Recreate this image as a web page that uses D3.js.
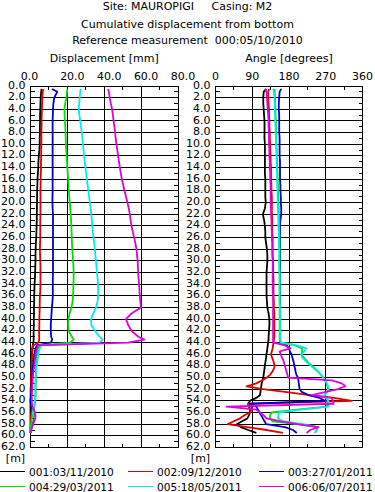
<!DOCTYPE html>
<html>
<head>
<meta charset="utf-8">
<script src="https://cdn.jsdelivr.net/npm/d3@7"></script>
<style>
  body { margin: 0; background: #fff; }
  svg text { font-family: "DejaVu Sans", Verdana, sans-serif; font-size: 11px; fill: #000; white-space: pre; }
  svg text.legend-label { font-size: 10.6px; }
</style>
</head>
<body>
<div id="canvas"></div>
<script>
"use strict"

/* Data: depths [m] shared by all readings */
let depths = [
  0.5, 1, 2, 3, 4, 5, 6, 7, 8, 9,
  10, 11, 12, 13, 14, 15, 16, 17, 18, 19,
  20, 21, 22, 23, 24, 25, 26, 27, 28, 29,
  30, 31, 32, 33, 34, 35, 36, 37, 38, 39,
  40, 41, 42, 43, 43.5, 44, 44.5, 45, 45.5, 46,
  46.5, 47, 47.5, 48, 48.5, 49, 49.5, 50, 50.5, 51,
  51.5, 52, 52.5, 53, 53.5, 54, 54.5, 55, 55.5, 56,
  56.5, 57, 57.5, 58, 58.5, 59, 59.5
];

let seriesNames = ["001:03/11/2010", "002:09/12/2010", "003:27/01/2011",
                   "004:29/03/2011", "005:18/05/2011", "006:06/07/2011"];
let seriesColors = ["#000000", "#e00000", "#0000d0", "#00e000", "#00eeee", "#e000e0"];

/* Cumulative displacement [mm] */
let disp001 = [
  6.0, 5.8, 5.5, 5.4, 5.3, 5.2, 5.2, 5.1, 5.1, 5.0,
  5.0, 4.8, 4.5, 4.3, 4.2, 4.0, 3.8, 3.7, 3.6, 3.6,
  3.5, 3.5, 3.4, 3.4, 3.3, 3.2, 3.1, 2.9, 2.8, 2.7,
  2.7, 2.6, 2.5, 2.4, 2.2, 2.1, 2.0, 2.0, 1.9, 1.9,
  1.8, 1.8, 1.7, 1.7, 1.7, 1.6, 1.2, 1.0, 0.9, 0.8,
  0.7, 0.6, 0.5, 0.5, 0.4, 0.4, 0.3, 0.3, 0.2, 0.2,
  0.2, 0.1, 0.1, 0.1, 0.1, 0.0, 0.0, 0.0, 0.0, 0.0,
  0.0, 0.0, 0.0, 0.0, 0.0, 0.0, 0.0
];
let disp002 = [
  7.0, 6.6, 6.4, 6.3, 6.2, 6.1, 6.0, 6.0, 5.9, 5.9,
  5.9, 5.8, 5.8, 5.7, 5.7, 5.6, 5.5, 5.5, 5.4, 5.4,
  5.4, 5.4, 5.4, 5.3, 5.3, 5.3, 5.3, 5.2, 5.1, 5.2,
  5.3, 5.4, 5.4, 5.4, 5.4, 5.3, 5.1, 5.0, 5.0, 4.9,
  4.8, 4.8, 4.7, 4.7, 4.7, 4.4, 1.4, 1.2, 1.0, 0.9,
  0.8, 0.7, 0.6, 0.6, 0.5, 0.5, 0.4, 0.4, 0.4, 0.3,
  0.3, 0.3, 0.3, 0.2, 0.2, 0.2, 0.3, 0.6, 0.7, 0.5,
  0.4, 0.3, 0.2, 0.2, 0.1, 0.0, 0.0
];
let disp003 = [
  11.7, 14.5, 12.9, 12.4, 12.2, 12.1, 12.0, 12.0, 12.0, 12.0,
  12.0, 12.0, 12.0, 12.0, 12.0, 12.0, 12.0, 12.0, 12.0, 11.9,
  11.9, 12.0, 12.2, 12.2, 12.2, 12.2, 12.2, 12.2, 12.2, 12.2,
  12.2, 12.2, 12.2, 12.1, 12.1, 12.1, 12.1, 11.9, 11.6, 11.4,
  11.2, 11.0, 11.0, 11.2, 11.8, 11.0, 3.4, 2.8, 2.4, 2.1,
  1.9, 1.7, 1.5, 1.4, 1.2, 1.1, 1.0, 0.9, 0.8, 0.7,
  0.6, 0.5, 0.4, 0.3, 0.1, 0.0, 0.2, 0.6, 1.2, 1.7,
  2.1, 2.0, 1.6, 1.0, 0.6, 0.3, 0.1
];
let disp004 = [
  20.0, 19.8, 19.5, 18.8, 18.4, 18.5, 18.7, 18.9, 19.0, 19.1,
  19.2, 19.4, 19.6, 19.8, 20.0, 20.2, 20.4, 20.6, 20.8, 21.0,
  21.3, 21.6, 21.8, 22.0, 22.2, 22.3, 22.4, 22.5, 22.7, 22.9,
  23.1, 23.3, 23.4, 23.4, 23.3, 23.2, 23.1, 22.8, 22.2, 21.2,
  20.5, 20.4, 20.6, 22.5, 23.5, 21.5, 5.0, 4.2, 3.8, 3.6,
  3.4, 3.3, 3.2, 3.1, 3.0, 3.0, 2.9, 2.9, 2.9, 2.8,
  2.8, 2.8, 2.8, 2.8, 2.7, 2.6, 2.4, 2.0, 1.6, 1.2,
  0.9, 0.7, 0.5, 0.3, 0.2, 0.1, 0.0
];
let disp005 = [
  27.2, 27.0, 26.7, 26.4, 26.2, 26.5, 27.0, 27.4, 27.8, 28.2,
  28.5, 28.8, 29.1, 29.4, 29.8, 30.2, 30.6, 31.0, 31.4, 31.8,
  32.2, 32.6, 33.0, 33.3, 33.5, 33.8, 34.2, 34.6, 34.9, 35.2,
  35.5, 35.8, 36.1, 36.4, 36.6, 36.7, 36.7, 36.3, 35.6, 34.0,
  32.8, 33.0, 35.0, 37.5, 39.0, 37.5, 5.5, 5.0, 4.6, 4.3,
  4.0, 3.8, 3.6, 3.4, 3.2, 3.0, 2.9, 2.8, 2.7, 2.6,
  2.6, 2.6, 2.6, 2.5, 2.4, 2.3, 2.1, 1.8, 1.5, 1.4,
  1.8, 2.3, 2.0, 1.4, 0.8, 0.3, 0.0
];
let disp006 = [
  42.1, 42.5, 43.0, 43.6, 44.3, 44.7, 45.1, 45.5, 45.9, 46.2,
  46.6, 47.1, 47.5, 48.0, 48.5, 49.0, 49.6, 50.3, 51.0, 51.8,
  52.6, 53.3, 53.9, 54.3, 54.8, 55.5, 56.2, 56.9, 57.5, 57.8,
  58.1, 58.3, 58.4, 58.6, 58.9, 59.1, 59.3, 59.6, 59.9, 54.8,
  51.8, 53.0, 54.8, 58.5, 61.8, 53.0, 4.0, 3.5, 3.1, 2.8,
  2.6, 2.4, 2.2, 2.0, 1.8, 1.6, 1.4, 1.3, 1.2, 1.1,
  1.0, 0.9, 0.8, 0.8, 0.7, 0.7, 0.8, 1.0, 1.8, 2.4,
  2.7, 2.6, 2.0, 1.4, 0.8, 0.4, 0.0
];

/* Angle [degrees] */
let ang001 = [
  124, 118, 117, 117, 118, 119, 120, 120, 120, 120,
  121, 121, 121, 121, 121, 121, 122, 122, 122, 122,
  123, 121, 116, 119, 121, 122, 122, 124, 126, 127,
  127, 126, 125, 125, 125, 125, 125, 126, 127, 130,
  132, 132, 131, 130, 130, 129, 128, 127, 126, 125,
  124, 123, 122, 121, 120, 119, 118, 117, 115, 113,
  112, 111, 110, 109, 100, 84, 80, 82, 85, 84,
  82, 78, 65, 52, 62, 80, 100
];
let ang002 = [
  131, 129, 129, 130, 131, 131, 132, 132, 133, 133,
  134, 134, 135, 135, 136, 136, 136, 137, 137, 138,
  138, 138, 138, 139, 139, 139, 140, 140, 140, 140,
  141, 141, 141, 142, 142, 142, 142, 143, 143, 144,
  144, 144, 144, 144, 143, 142, 141, 140, 138, 136,
  138, 141, 143, 145, 143, 139, 134, 126, 114, 100,
  76, 116, 175, 230, 290, 334, 80, 88, 90, 84,
  70, 60, 45, 30, 78, 125, 165
];
let ang003 = [
  161, 157, 156, 155, 155, 156, 156, 156, 156, 157,
  157, 157, 157, 158, 158, 158, 158, 159, 159, 160,
  160, 161, 161, 159, 158, 158, 158, 158, 158, 158,
  158, 158, 158, 158, 158, 158, 158, 158, 158, 158,
  158, 158, 158, 158, 158, 160, 175, 180, 182, 186,
  188, 190, 192, 193, 195, 196, 198, 202, 203, 204,
  205, 206, 212, 228, 255, 268, 84, 100, 104, 108,
  112, 116, 120, 124, 170, 190, 199
];
let ang004 = [
  145, 145, 146, 146, 147, 147, 148, 148, 148, 149,
  149, 150, 150, 151, 151, 152, 152, 153, 153, 154,
  154, 155, 155, 156, 156, 156, 157, 157, 157, 157,
  157, 157, 157, 157, 157, 157, 157, 157, 157, 157,
  157, 157, 157, 157, 157, 160, 195, 212, 212, 211,
  215, 222, 228, 236, 244, 252, 258, 264, 268, 272,
  274, 276, 272, 268, 272, 276, 275, 272, 200, 137,
  134, 133, 140, 200, 250, 248, 244
];
let ang005 = [
  141, 143, 144, 145, 145, 146, 146, 147, 147, 148,
  148, 149, 149, 150, 150, 151, 151, 151, 152, 152,
  152, 153, 153, 154, 154, 155, 155, 155, 156, 156,
  156, 156, 157, 157, 157, 157, 157, 157, 158, 158,
  158, 158, 158, 158, 158, 162, 200, 222, 218, 210,
  212, 218, 226, 234, 242, 250, 258, 264, 269, 273,
  276, 277, 272, 266, 270, 276, 278, 276, 210, 156,
  154, 153, 165, 215, 252, 247, 243
];
let ang006 = [
  122, 125, 126, 127, 128, 129, 130, 130, 131, 131,
  131, 132, 132, 133, 133, 134, 134, 135, 135, 135,
  135, 136, 136, 137, 137, 138, 138, 139, 139, 139,
  140, 140, 140, 140, 140, 140, 141, 141, 141, 141,
  141, 141, 141, 141, 141, 142, 170, 184, 157, 160,
  162, 166, 168, 170, 172, 174, 176, 178, 285, 309,
  318, 300, 268, 236, 284, 288, 289, 27, 100, 109,
  118, 125, 160, 200, 252, 232, 223
];

/* Tick values */
let depthTicks = [0, 2, 4, 6, 8, 10, 12, 14, 16, 18, 20, 22, 24, 26, 28, 30,
                  32, 34, 36, 38, 40, 42, 44, 46, 48, 50, 52, 54, 56, 58, 60, 62];
let dispTicks = [0, 20, 40, 60, 80];
let dispMinor = [10, 30, 50, 70];
let angleTicks = [0, 90, 180, 270, 360];
let angleMinor = [45, 135, 225, 315];

/* Drawing configuration */
let svgWidth = 375;
let svgHeight = 492;
let plotTop = 86;
let plotBottom = 447.5;

let svg = d3.select("#canvas")
    .append("svg")
    .attr("width", svgWidth)
    .attr("height", svgHeight);

let y = d3.scaleLinear()
    .domain([0, 62])
    .range([plotTop, plotBottom]);

let xDisp = d3.scaleLinear()
    .domain([0, 80])
    .range([30.5, 178]);

let xAngle = d3.scaleLinear()
    .domain([0, 360])
    .range([215.5, 362.5]);

/* Titles */
svg.append("text").attr("x", 187.5).attr("y", 9.5).attr("text-anchor", "middle")
    .text("Site: MAUROPIGI     Casing: M2");
svg.append("text").attr("x", 187.5).attr("y", 28).attr("text-anchor", "middle")
    .text("Cumulative displacement from bottom");
svg.append("text").attr("x", 187.5).attr("y", 44).attr("text-anchor", "middle")
    .text("Reference measurement  000:05/10/2010");

function drawPanel(x, majors, minors, fmt, labelShift, title, values) {
    let [x0, x1] = x.range();
    let g = svg.append("g");

    g.append("text")
        .attr("x", (x0 + x1) / 2)
        .attr("y", 62)
        .attr("text-anchor", "middle")
        .text(title);

    /* top tick labels */
    g.selectAll(".xlab")
        .data(majors)
        .join("text")
        .attr("x", d => x(d) + labelShift(d))
        .attr("y", 80)
        .attr("text-anchor", "middle")
        .text(fmt);

    /* depth labels */
    let yAxis = d3.axisLeft(y)
        .tickValues(depthTicks)
        .tickSize(0)
        .tickPadding(5)
        .tickFormat(d3.format(".1f"));
    let ya = g.append("g")
        .attr("transform", `translate(${x0},-1.5)`)
        .call(yAxis);
    ya.select(".domain").remove();
    ya.attr("font-family", null).attr("font-size", null);

    g.append("text")
        .attr("x", x0 - 15)
        .attr("y", 462)
        .attr("text-anchor", "middle")
        .text("[m]");

    let grid = g.append("g")
        .attr("stroke", "#000")
        .attr("stroke-width", 1)
        .attr("shape-rendering", "crispEdges");

    grid.selectAll(".h")
        .data(depthTicks)
        .join("line")
        .attr("x1", x0).attr("x2", x1)
        .attr("y1", d => y(d)).attr("y2", d => y(d));

    grid.selectAll(".v")
        .data(majors)
        .join("line")
        .attr("x1", d => x(d)).attr("x2", d => x(d))
        .attr("y1", plotTop).attr("y2", plotBottom);

    /* minor ticks, top and bottom */
    grid.selectAll(".mt")
        .data(minors)
        .join("line")
        .attr("x1", d => x(d)).attr("x2", d => x(d))
        .attr("y1", plotTop).attr("y2", plotTop + 4);
    grid.selectAll(".mb")
        .data(minors)
        .join("line")
        .attr("x1", d => x(d)).attr("x2", d => x(d))
        .attr("y1", plotBottom - 4).attr("y2", plotBottom);

    /* minor ticks at odd metres, left and right */
    let odd = depthTicks.slice(0, -1).map(d => d + 1);
    grid.selectAll(".ml")
        .data(odd)
        .join("line")
        .attr("x1", x0).attr("x2", x0 + 4)
        .attr("y1", d => y(d)).attr("y2", d => y(d));
    grid.selectAll(".mr")
        .data(odd)
        .join("line")
        .attr("x1", x1 - 4).attr("x2", x1)
        .attr("y1", d => y(d)).attr("y2", d => y(d));

    /* readings */
    let line = d3.line()
        .x(d => x(d[1]))
        .y(d => y(d[0]));

    g.selectAll(".reading")
        .data(values)
        .join("path")
        .attr("fill", "none")
        .attr("stroke", (d, i) => seriesColors[i])
        .attr("stroke-width", 1.8)
        .attr("stroke-linejoin", "round")
        .attr("d", vals => line(depths.map((dep, k) => [dep, vals[k]])));
}

drawPanel(xDisp, dispTicks, dispMinor, d3.format(".1f"), d => d === 0 ? -1 : 5,
    "Displacement [mm]", [disp001, disp002, disp003, disp004, disp005, disp006]);

drawPanel(xAngle, angleTicks, angleMinor, d3.format("d"), d => 0,
    "Angle [degrees]", [ang001, ang002, ang003, ang004, ang005, ang006]);

/* Legend */
let legendCols = [0, 128, 259];
let legendRows = [471.5, 486.5];
let legendItems = seriesNames.map((name, i) => ({ name: name, color: seriesColors[i], i: i }));

let legend = svg.selectAll(".legend")
    .data(legendItems)
    .join("g")
    .attr("transform", d => `translate(${legendCols[d.i % 3]},${legendRows[Math.floor(d.i / 3)]})`);

legend.append("line")
    .attr("x1", 0).attr("x2", 25)
    .attr("y1", 0).attr("y2", 0)
    .attr("stroke", d => d.color)
    .attr("stroke-width", 1)
    .attr("shape-rendering", "crispEdges");

legend.append("text")
    .attr("class", "legend-label")
    .attr("x", 29)
    .attr("y", 4)
    .text(d => d.name);
</script>
</body>
</html>
